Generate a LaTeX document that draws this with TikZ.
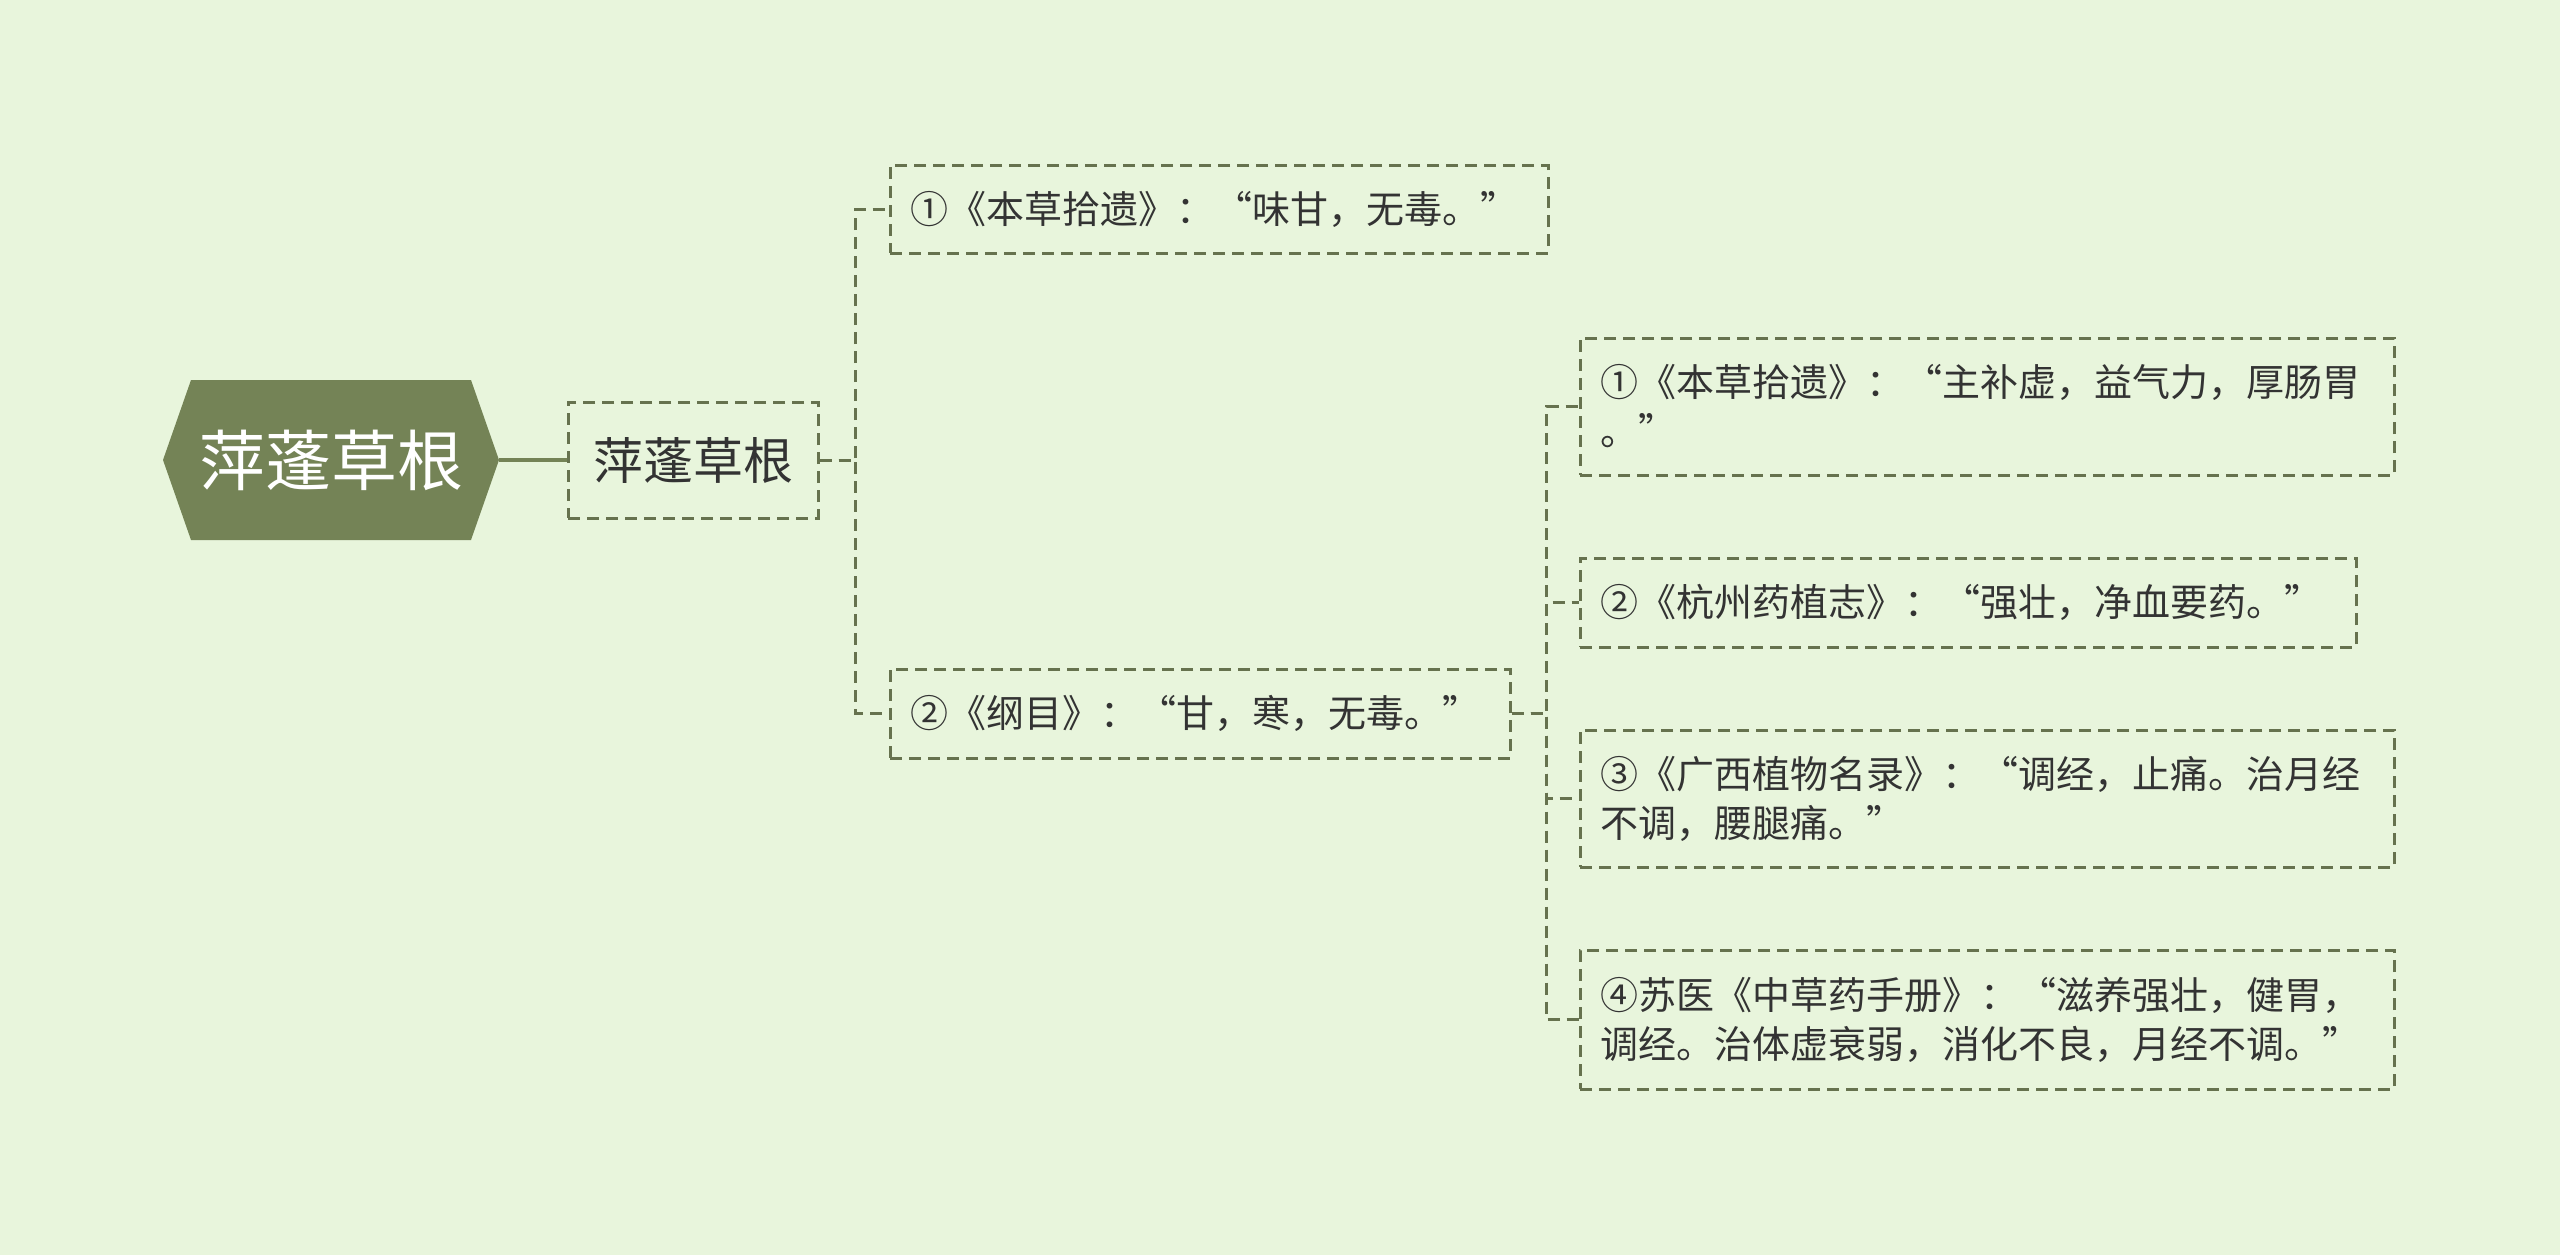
\documentclass[tikz,border=0pt]{standalone}
\usepackage{fontspec}
\setmainfont{Noto Sans CJK SC}
\definecolor{bgcol}{HTML}{E8F5DC}
\definecolor{rootcol}{HTML}{748356}
\definecolor{linecol}{HTML}{66724E}
\definecolor{txtcol}{HTML}{333333}
\tikzset{
  rootlabel/.style={text=white, font=\fontsize{66}{72}\selectfont, inner sep=0pt},
  subbox/.style={draw=linecol, line width=3pt, dash pattern=on 12pt off 7pt, text=txtcol,
    font=\fontsize{50}{58}\selectfont, minimum width=250pt, minimum height=116pt, inner sep=0pt},
  leaf/.style={draw=linecol, line width=3pt, dash pattern=on 12pt off 7pt, text=txtcol,
    font=\fontsize{38}{49}\selectfont, align=left, inner xsep=20pt, inner ysep=0pt},
  conn/.style={draw=linecol, line width=3pt, dash pattern=on 12pt off 7pt},
  solidconn/.style={draw=rootcol, line width=4pt}
}
\begin{document}
\begin{tikzpicture}[x=1pt,y=-1pt]
\useasboundingbox (0,0) rectangle (2560,1255);
\fill[bgcol] (0,0) rectangle (2560,1255);
% root hexagon
\fill[rootcol] (163,460) -- (191,380) -- (471,380) -- (499,460) -- (471,540) -- (191,540) -- cycle;
\node[rootlabel] (root) at (331,460) {萍蓬草根};
\coordinate (rootE) at (499,460);
% child
\node[subbox] (child) at (693,460) {萍蓬草根};
% level 2
\node[leaf, text width=618pt, minimum height=88pt] (L1) at (1219,209) {①《本草拾遗》：“味甘，无毒。”};
\node[leaf, text width=580pt, minimum height=89pt] (L2) at (1200,713.5) {②《纲目》：“甘，寒，无毒。”};
% level 3
\node[leaf, text width=774pt, minimum height=137pt] (R1) at (1987,406.5) {①《本草拾遗》：“主补虚，益气力，厚肠胃\\。”};
\node[leaf, text width=736pt, minimum height=89pt] (R2) at (1968,602.5) {②《杭州药植志》：“强壮，净血要药。”};
\node[leaf, text width=774pt, minimum height=137pt] (R3) at (1987,798.5) {③《广西植物名录》：“调经，止痛。治月经\\不调，腰腿痛。”};
\node[leaf, text width=774pt, minimum height=139pt] (R4) at (1987,1019.5) {④苏医《中草药手册》：“滋养强壮，健胃，\\调经。治体虚衰弱，消化不良，月经不调。”};
% connectors
\draw[solidconn] (rootE) -- (child.west);
\draw[conn] (child.east) -- ++(36,0) |- (L1.west);
\draw[conn] (child.east) -- ++(36,0) |- (L2.west);
\draw[conn] (L2.east) -- ++(35,0) |- (R1.west);
\draw[conn] (L2.east) -- ++(35,0) |- (R2.west);
\draw[conn] (L2.east) -- ++(35,0) |- (R3.west);
\draw[conn] (L2.east) -- ++(35,0) |- (R4.west);
\end{tikzpicture}
\end{document}
